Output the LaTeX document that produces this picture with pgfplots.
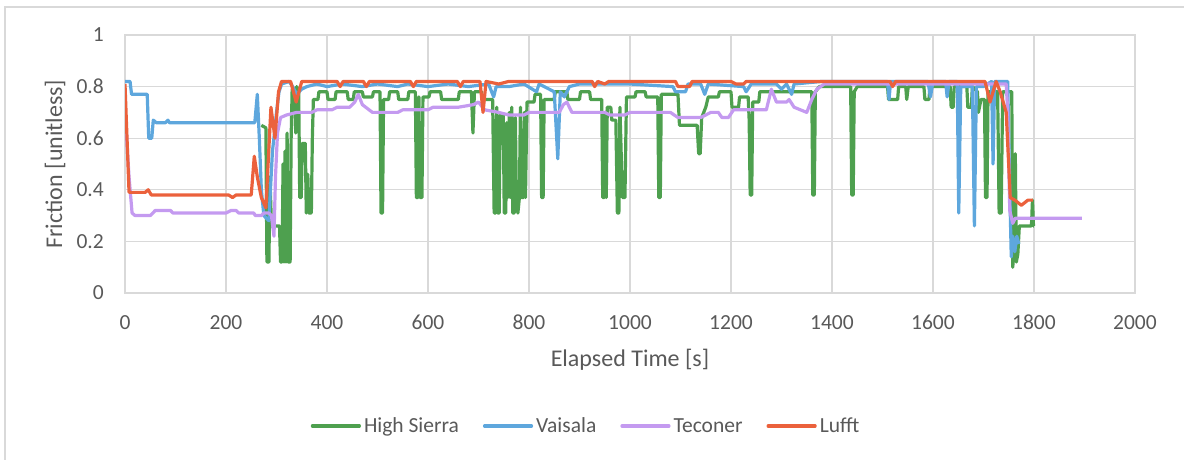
\documentclass[border=0pt]{standalone}
\usepackage{pgfplots}
\pgfplotsset{compat=1.18}
\usepackage{fontspec}
\setmainfont{Carlito}

\definecolor{gridgray}{RGB}{217,217,217}
\definecolor{labelgray}{RGB}{89,89,89}
\definecolor{hsgreen}{RGB}{78,160,79}
\definecolor{vaiblue}{RGB}{94,167,221}
\definecolor{tecpurple}{RGB}{196,154,240}
\definecolor{luffred}{RGB}{235,97,60}

\begin{document}
\begin{tikzpicture}
\path[use as bounding box] (0pt,0pt) rectangle (1184pt,460pt);
% chart frame
\draw[gridgray, line width=1.5pt] (5pt,0pt) -- (5pt,453pt) -- (1184pt,453pt);

\begin{axis}[
  at={(125pt,167pt)}, anchor=south west,
  scale only axis, width=1010pt, height=258pt,
  xmin=0, xmax=2000, ymin=0, ymax=1,
  xtick={0,200,400,600,800,1000,1200,1400,1600,1800,2000},
  ytick={0,0.2,0.4,0.6,0.8,1},
  scaled ticks=false,
  /pgf/number format/1000 sep={},
  /pgf/number format/assume math mode=true,
  grid=major,
  major grid style={line width=1.3pt, draw=gridgray},
  axis line style={line width=1.3pt, draw=gridgray},
  major tick length=0pt,
  tick style={draw=none},
  ticklabel style={font=\fontsize{21.5}{24}\selectfont, text=labelgray},
  yticklabel style={inner sep=0pt, anchor=east, xshift=-21pt},
  xticklabel style={inner sep=0pt, anchor=north, yshift=-22pt},
  xlabel={Elapsed Time [s]},
  xlabel style={font=\fontsize{24}{28}\selectfont, text=labelgray,
    at={(axis description cs:0.5,0)}, anchor=north, inner sep=0pt, yshift=-56pt},
  ylabel={Friction [unitless]},
  ylabel style={font=\fontsize{24}{28}\selectfont, text=labelgray,
    at={(axis description cs:-0.0693,0.5)}, anchor=center, inner sep=0pt},
  no markers,
  every axis plot/.append style={line width=3.2pt, line join=round},
  legend columns=4,
  legend style={at={(axis description cs:0.457,-0.5155)}, anchor=center,
    draw=none, fill=none, inner sep=0pt,
    font=\fontsize{21.5}{24}\selectfont, text=labelgray,
    nodes={inner sep=3pt},
    /tikz/every even column/.append style={column sep=21pt}},
  legend image code/.code={\draw[#1, line width=3.2pt, line cap=round] (0pt,0pt) -- (47pt,0pt);},
]

% High Sierra
\addplot[hsgreen] coordinates {
(270,0.65) (279,0.64) (281,0.12) (285,0.12) (287,0.45) (290,0.26) (306,0.26)
(308,0.12) (311,0.12) (313,0.50) (315,0.12) (317,0.55) (319,0.12) (321,0.62)
(323,0.12) (327,0.12) (329,0.60) (331,0.79) (336,0.79) (338,0.62) (340,0.80)
(344,0.78) (346,0.37) (349,0.37) (351,0.58) (357,0.58) (359,0.31) (362,0.46)
(364,0.31) (369,0.31) (371,0.60) (373,0.75) (382,0.75) (384,0.78) (400,0.78)
(402,0.75) (416,0.75) (418,0.78) (440,0.78) (442,0.75) (452,0.75) (454,0.78)
(470,0.78) (472,0.76) (490,0.76) (492,0.78) (505,0.78) (507,0.31) (510,0.31)
(512,0.75) (522,0.75) (524,0.78) (540,0.78) (542,0.75) (560,0.75) (562,0.78)
(575,0.78) (577,0.37) (580,0.37) (582,0.76) (584,0.37) (588,0.37) (590,0.76)
(602,0.76) (604,0.78) (625,0.78) (627,0.75) (660,0.75) (662,0.78) (686,0.78)
(689,0.62) (692,0.78) (706,0.78) (708,0.75) (728,0.75) (731,0.31) (734,0.31)
(736,0.72) (738,0.31) (741,0.31) (743,0.69) (749,0.69) (751,0.31) (754,0.31)
(756,0.66) (758,0.37) (761,0.70) (763,0.37) (766,0.72) (768,0.31) (771,0.31)
(773,0.68) (775,0.37) (778,0.31) (781,0.37) (783,0.72) (785,0.37) (789,0.37)
(791,0.70) (793,0.37) (796,0.74) (810,0.74) (812,0.77) (823,0.77) (825,0.37)
(828,0.37) (830,0.75) (850,0.75) (852,0.78) (875,0.78) (877,0.75) (900,0.75)
(902,0.78) (920,0.78) (922,0.75) (944,0.75) (946,0.37) (949,0.37) (951,0.70)
(953,0.37) (955,0.72) (962,0.72) (964,0.67) (972,0.67) (975,0.31) (978,0.31)
(980,0.72) (985,0.37) (990,0.37) (993,0.76) (1010,0.76) (1012,0.78) (1030,0.78)
(1032,0.76) (1055,0.76) (1057,0.37) (1060,0.37) (1062,0.77) (1095,0.77)
(1098,0.65) (1133,0.65) (1136,0.54) (1139,0.54) (1142,0.68) (1150,0.72)
(1155,0.76) (1175,0.76) (1177,0.78) (1200,0.78) (1202,0.72) (1215,0.72)
(1217,0.76) (1234,0.76) (1236,0.67) (1238,0.38) (1241,0.38) (1243,0.74)
(1255,0.74) (1257,0.78) (1360,0.78) (1362,0.38) (1365,0.38) (1367,0.78)
(1375,0.80) (1437,0.80) (1439,0.38) (1442,0.38) (1444,0.78) (1450,0.80)
(1510,0.80) (1512,0.75) (1530,0.75) (1532,0.80) (1546,0.80) (1548,0.75)
(1551,0.80) (1582,0.80) (1584,0.75) (1592,0.75) (1594,0.80) (1634,0.80)
(1636,0.72) (1640,0.72) (1642,0.80) (1667,0.80) (1669,0.72) (1676,0.72)
(1678,0.80) (1688,0.78) (1690,0.70) (1695,0.75) (1702,0.75) (1704,0.37)
(1707,0.37) (1709,0.78) (1728,0.78) (1731,0.31) (1735,0.31) (1738,0.78)
(1756,0.78) (1758,0.10) (1761,0.20) (1763,0.54) (1765,0.12) (1768,0.15)
(1771,0.26) (1795,0.26) (1797,0.36) (1799,0.26) (1800,0.26)
};
\addlegendentry{High Sierra}

% Vaisala
\addplot[vaiblue] coordinates {
(0,0.82) (10,0.82) (13,0.77) (44,0.77) (47,0.60) (53,0.60) (56,0.67) (62,0.66)
(80,0.66) (85,0.67) (88,0.66) (257,0.66) (262,0.77) (266,0.60) (270,0.40)
(275,0.30) (285,0.28) (288,0.40) (292,0.55) (296,0.62) (300,0.70) (305,0.78)
(310,0.81) (325,0.82) (332,0.80) (340,0.77) (350,0.79) (360,0.80) (380,0.81)
(400,0.80) (430,0.81) (470,0.80) (500,0.81) (540,0.80) (560,0.81) (600,0.80)
(640,0.81) (680,0.80) (720,0.81) (730,0.76) (735,0.80) (760,0.80) (790,0.81)
(815,0.78) (820,0.81) (850,0.78) (857,0.52) (862,0.78) (870,0.76) (880,0.80)
(900,0.81) (950,0.81) (1000,0.81) (1085,0.80) (1090,0.78) (1110,0.78)
(1115,0.81) (1140,0.81) (1148,0.77) (1155,0.81) (1225,0.80) (1230,0.78)
(1240,0.81) (1290,0.81) (1300,0.79) (1310,0.81) (1320,0.77) (1325,0.81)
(1380,0.82) (1510,0.82) (1513,0.75) (1516,0.82) (1590,0.82) (1595,0.76)
(1600,0.82) (1625,0.82) (1628,0.76) (1632,0.82) (1648,0.82) (1651,0.31)
(1655,0.80) (1678,0.80) (1682,0.26) (1686,0.80) (1700,0.80) (1716,0.82)
(1719,0.50) (1722,0.82) (1748,0.82) (1752,0.40) (1755,0.14) (1758,0.22)
(1762,0.16) (1766,0.22) (1770,0.19)
};
\addlegendentry{Vaisala}

% Teconer
\addplot[tecpurple] coordinates {
(2,0.64) (8,0.45) (14,0.31) (20,0.30) (50,0.30) (55,0.31) (60,0.32) (90,0.32)
(95,0.31) (200,0.31) (210,0.32) (220,0.32) (225,0.31) (255,0.31) (258,0.30)
(270,0.30) (275,0.31) (285,0.31) (290,0.30) (295,0.22) (298,0.45) (302,0.62)
(308,0.68) (320,0.69) (340,0.70) (370,0.70) (380,0.71) (410,0.71) (420,0.72)
(445,0.72) (455,0.74) (462,0.77) (470,0.73) (490,0.70) (540,0.70) (550,0.71)
(600,0.71) (610,0.72) (660,0.72) (690,0.73) (700,0.74) (712,0.71) (740,0.70)
(760,0.69) (790,0.69) (800,0.70) (860,0.70) (868,0.73) (875,0.74) (885,0.70)
(950,0.70) (960,0.69) (990,0.69) (1000,0.70) (1080,0.70) (1095,0.68)
(1140,0.68) (1160,0.70) (1175,0.70) (1182,0.68) (1195,0.68) (1205,0.71)
(1270,0.71) (1280,0.79) (1290,0.74) (1310,0.74) (1315,0.75) (1325,0.72)
(1350,0.70) (1360,0.75) (1370,0.79) (1385,0.81) (1745,0.81) (1748,0.70)
(1752,0.32) (1758,0.27) (1763,0.29) (1895,0.29)
};
\addlegendentry{Teconer}

% Lufft
\addplot[luffred] coordinates {
(0,0.81) (8,0.39) (40,0.39) (46,0.40) (52,0.38) (205,0.38) (213,0.37)
(220,0.38) (250,0.38) (256,0.53) (262,0.45) (270,0.37) (279,0.33) (289,0.72)
(297,0.60) (304,0.78) (310,0.82) (328,0.82) (339,0.74) (350,0.82) (420,0.82)
(426,0.80) (432,0.82) (472,0.82) (478,0.80) (484,0.82) (565,0.82) (571,0.80)
(577,0.82) (658,0.82) (664,0.80) (670,0.82) (703,0.82) (709,0.70) (715,0.82)
(740,0.81) (760,0.82) (925,0.82) (930,0.80) (936,0.82) (950,0.81) (958,0.82)
(1090,0.82) (1095,0.80) (1118,0.80) (1123,0.82) (1200,0.82) (1210,0.81)
(1225,0.81) (1230,0.82) (1515,0.82) (1520,0.80) (1526,0.82) (1703,0.82)
(1713,0.74) (1725,0.82) (1733,0.78) (1745,0.70) (1753,0.37) (1762,0.36)
(1775,0.34) (1788,0.36) (1798,0.36)
};
\addlegendentry{Lufft}

\end{axis}
\end{tikzpicture}
\end{document}
